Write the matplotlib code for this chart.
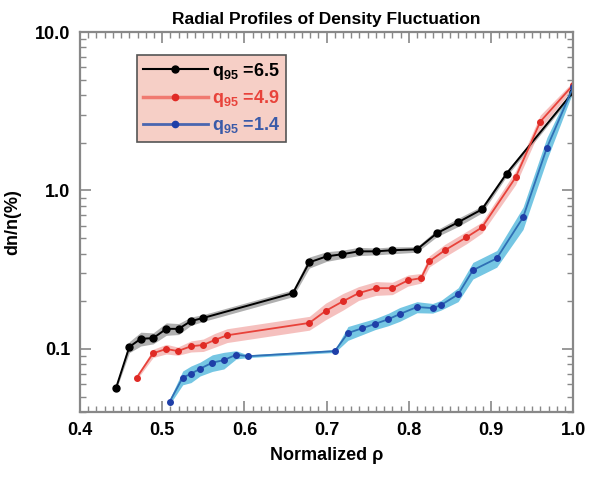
import numpy as np
import matplotlib
matplotlib.use("Agg")
import matplotlib.pyplot as plt
from matplotlib.ticker import MultipleLocator, FixedLocator, FixedFormatter, LogLocator, NullFormatter

plt.rcParams['font.family'] = ['Liberation Sans', 'DejaVu Sans']
plt.rcParams['mathtext.fontset'] = 'custom'
plt.rcParams['mathtext.rm'] = 'Liberation Sans:bold'
plt.rcParams['mathtext.bf'] = 'Liberation Sans:bold'

# q95 = 6.5
rho_65 = [0.444, 0.460, 0.474, 0.489, 0.505, 0.520, 0.535, 0.550, 0.659, 0.679,
          0.700, 0.719, 0.739, 0.760, 0.780, 0.810, 0.834, 0.860, 0.889, 0.919, 1.0]
dn_65 = [0.057, 0.103, 0.116, 0.117, 0.134, 0.134, 0.150, 0.157, 0.225, 0.352,
         0.384, 0.396, 0.413, 0.413, 0.420, 0.425, 0.537, 0.630, 0.760, 1.28, 4.19]
err_65 = [0.03, 0.08, 0.10, 0.08, 0.09, 0.08, 0.06, 0.05, 0.05, 0.08,
          0.07, 0.06, 0.06, 0.05, 0.05, 0.04, 0.05, 0.06, 0.05, 0.04, 0.03]

# q95 = 4.9
rho_49 = [0.469, 0.489, 0.505, 0.519, 0.535, 0.550, 0.564, 0.579, 0.679, 0.699,
          0.720, 0.739, 0.760, 0.780, 0.799, 0.815, 0.825, 0.844, 0.870, 0.889,
          0.930, 0.960, 1.0]
dn_49 = [0.066, 0.094, 0.100, 0.097, 0.104, 0.106, 0.114, 0.122, 0.146, 0.174,
         0.200, 0.225, 0.242, 0.242, 0.271, 0.280, 0.358, 0.420, 0.506, 0.585,
         1.21, 2.72, 4.64]
err_49 = [0.03, 0.06, 0.07, 0.06, 0.08, 0.09, 0.10, 0.10, 0.10, 0.12,
          0.12, 0.10, 0.10, 0.09, 0.08, 0.07, 0.08, 0.09, 0.09, 0.08,
          0.10, 0.10, 0.05]

# q95 = 1.4
rho_14 = [0.509, 0.525, 0.535, 0.546, 0.561, 0.575, 0.590, 0.604, 0.710, 0.726,
          0.743, 0.759, 0.775, 0.789, 0.810, 0.829, 0.839, 0.860, 0.878, 0.907,
          0.939, 0.968, 1.0]
dn_14 = [0.0464, 0.066, 0.0697, 0.075, 0.082, 0.085, 0.092, 0.090, 0.097, 0.126,
         0.135, 0.144, 0.154, 0.166, 0.184, 0.181, 0.189, 0.221, 0.314, 0.373,
         0.676, 1.86, 4.5]
err_14 = [0.04, 0.10, 0.12, 0.10, 0.12, 0.12, 0.06, 0.02, 0.02, 0.10,
          0.09, 0.08, 0.09, 0.10, 0.08, 0.07, 0.07, 0.10, 0.12, 0.12,
          0.16, 0.16, 0.06]

series = [
    (rho_65, dn_65, err_65, 'black', '#8f8f8f', 'black', 1.4, 5),
    (rho_49, dn_49, err_49, '#e8423a', '#f2a6a3', '#e02a25', 1.3, 4),
    (rho_14, dn_14, err_14, '#2f6fb5', '#3aaed8', '#1f3fa8', 1.3, 4),
]
labels = [r'$\mathbf{q_{95}}$ =6.5', r'$\mathbf{q_{95}}$ =4.9', r'$\mathbf{q_{95}}$ =1.4']
leg_line_colors = ['black', '#f07a70', '#4a66b0']
leg_line_widths = [1.5, 2.5, 2.0]
text_colors = ['black', '#e8423a', '#3a5aa8']

fig = plt.figure(figsize=(6, 4.78), dpi=100)
ax = fig.add_axes([0.1333, 0.138, 0.822, 0.795])

for x, y, e, lc, bc, mc, lw, ms in series:
    x = np.array(x)
    y = np.array(y)
    e = np.array(e)
    ax.fill_between(x, y * (1 - e), y * (1 + e), color=bc, alpha=0.7, lw=0)
    ax.plot(x, y, '-o', color=lc, lw=lw, ms=ms, mfc=mc, mec=mc)

ax.set_yscale('log')
ax.set_xlim(0.4, 1.0)
ax.set_ylim(0.04, 10)

ax.xaxis.set_minor_locator(MultipleLocator(0.01))
ax.set_xticks([0.4, 0.5, 0.6, 0.7, 0.8, 0.9, 1.0])
ax.set_xticklabels(['0.4', '0.5', '0.6', '0.7', '0.8', '0.9', '1.0'])
ax.yaxis.set_major_locator(FixedLocator([0.1, 1.0, 10.0]))
ax.yaxis.set_major_formatter(FixedFormatter(['0.1', '1.0', '10.0']))
ax.yaxis.set_minor_locator(LogLocator(base=10, subs=np.arange(2, 10)))
ax.yaxis.set_minor_formatter(NullFormatter())

for lab in ax.get_xticklabels() + ax.get_yticklabels():
    lab.set_fontweight('bold')
    lab.set_fontsize(13)

ax.tick_params(which='both', direction='in', top=True, right=True, color='#888888')
ax.tick_params(which='major', length=8, width=1.2, pad=7)
ax.tick_params(which='minor', length=4, width=1.0)
for s in ax.spines.values():
    s.set_color('#888888')
    s.set_linewidth(1.6)

ax.set_xlabel('Normalized ρ', fontsize=13, fontweight='bold', labelpad=6)
ax.set_ylabel('dn/n(%)', fontsize=13, fontweight='bold', labelpad=10)
ax.set_title('Radial Profiles of Density Fluctuation', fontsize=12.5, fontweight='bold', pad=6)

handles = [plt.Line2D([], [], color=c, lw=w, marker='o', ms=m, mfc=s[5], mec=s[5])
           for c, w, m, s in zip(leg_line_colors, leg_line_widths, [5, 4.5, 4.5], series)]
leg = ax.legend(handles, labels, loc='upper left', bbox_to_anchor=(0.116, 0.939),
                borderaxespad=0, fontsize=13, frameon=True, fancybox=False,
                facecolor='#f6cfc6', edgecolor='#555555',
                handlelength=3.6, borderpad=0.3, labelspacing=0.35, handletextpad=0.25)
leg.get_frame().set_linewidth(1.2)
leg.get_frame().set_alpha(1)
for t, c in zip(leg.get_texts(), text_colors):
    t.set_color(c)
    t.set_fontweight('bold')

fig.savefig('out.png', dpi=100)
